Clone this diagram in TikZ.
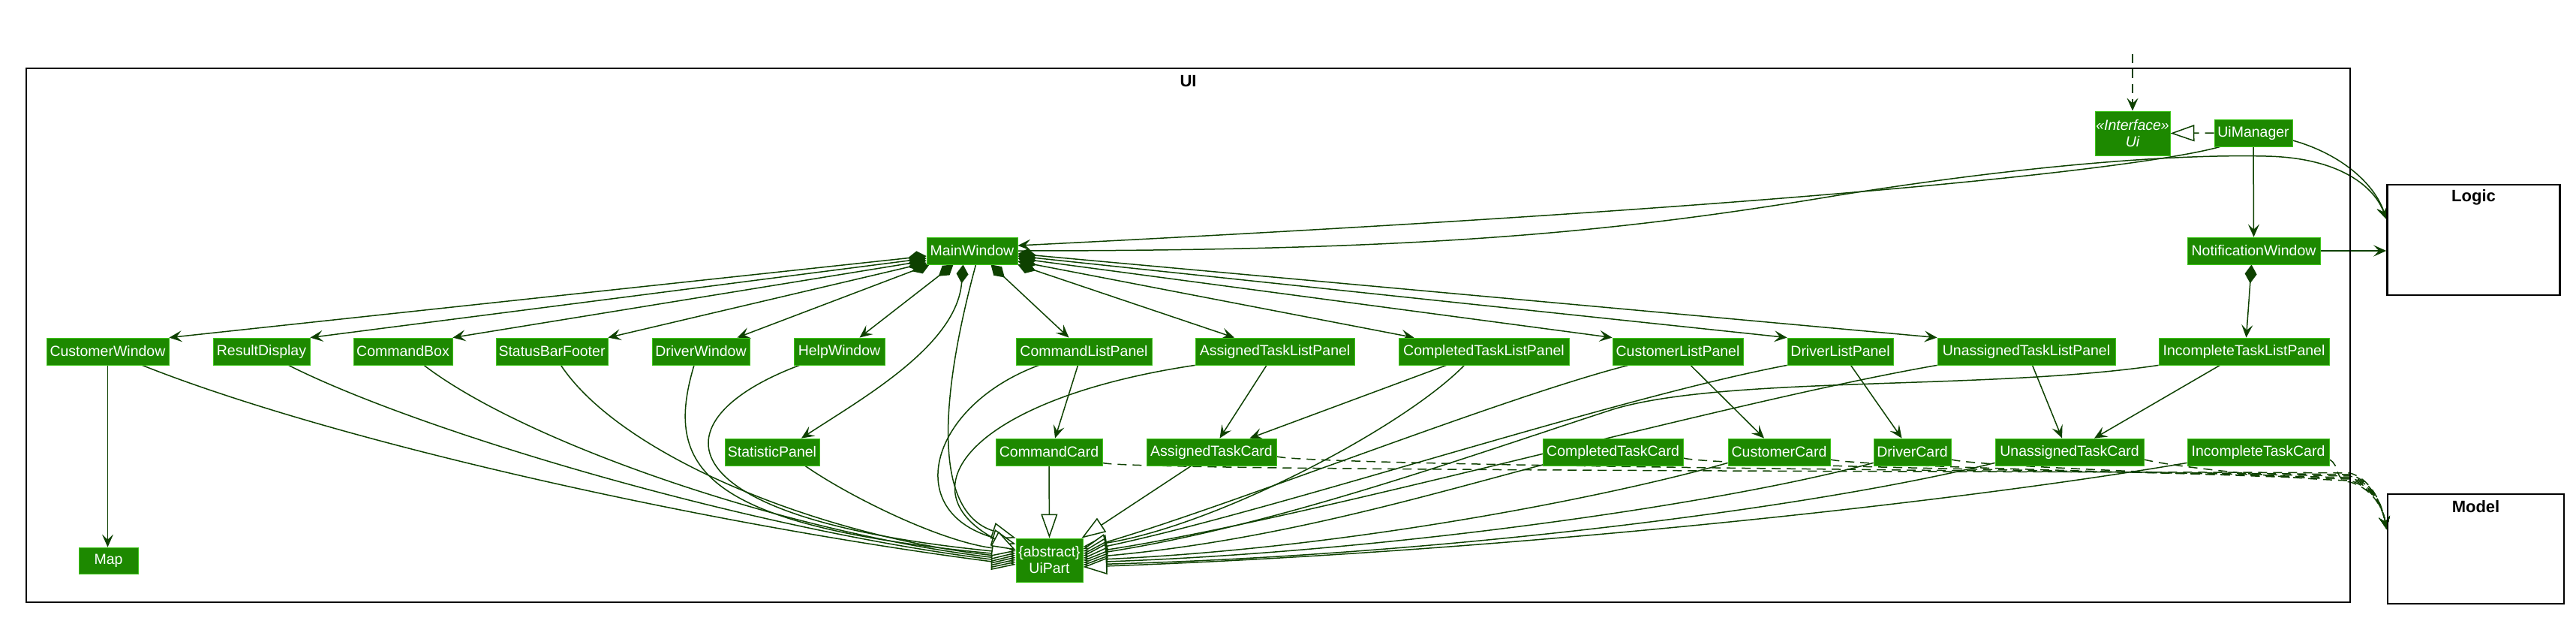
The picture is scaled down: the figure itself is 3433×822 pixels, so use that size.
\documentclass[tikz,border=0pt]{standalone}
\usepackage{fontspec}
\newfontfamily\lsans{Liberation Sans}
\usetikzlibrary{arrows.meta}
\definecolor{uifill}{HTML}{1D8900}
\definecolor{uiborder}{HTML}{3FC71B}
\definecolor{lc}{HTML}{0E4100}
\pgfdeclarelayer{edges}
\pgfsetlayers{edges,main}
\begin{document}
\begin{tikzpicture}[x=1pt,y=1pt,
  cls/.style={rectangle, fill=uifill, draw=uiborder, line width=0.8pt, text=white,
    font=\lsans\fontsize{19.5}{22}\selectfont, inner sep=0pt, minimum height=36pt, align=center},
  pkg/.style={rectangle, draw=black, line width=2.6pt, inner sep=0pt},
  pkglbl/.style={font=\lsans\bfseries\fontsize{22}{24}\selectfont, inner sep=0pt},
  lnk/.style={draw=lc, line width=1.5pt},
  assoc/.style={lnk, -{Stealth[length=17pt, width=15pt, inset=7pt]}},
  comp/.style={lnk, {Diamond[length=25pt, width=16pt]}-{Stealth[length=17pt, width=15pt, inset=7pt]}},
  ext/.style={lnk, -{Triangle[open, fill=white, length=32pt, width=22pt]}},
  dep/.style={assoc, dash pattern=on 12pt off 8pt},
  real/.style={ext, dash pattern=on 12pt off 8pt}
]
\useasboundingbox (0,0) rectangle (3433,-822);

% packages
\node[pkg, minimum width=3097pt, minimum height=711pt] (uipkg) at (1583.5,-446.5) {};
\node[pkglbl] (uilbl) at (1583.5,-108) {UI};
\node[pkg, minimum width=230pt, minimum height=147pt] (logic) at (3296.5,-319.5) {};
\node[pkglbl] (logiclbl) at (3296.5,-263) {Logic};
\node[pkg, minimum width=235pt, minimum height=146pt] (model) at (3299.5,-731) {};
\node[pkglbl] (modellbl) at (3299.5,-675) {Model};

% classes
\node[cls, minimum width=100pt, minimum height=59pt, font=\lsans\itshape\fontsize{19.5}{22}\selectfont] (ui) at (2842,-177.5) {«Interface»\\Ui};
\node[cls, minimum width=104pt] (uim) at (3003,-177) {UiManager};
\node[cls, minimum width=121pt] (mw) at (1295.5,-334) {MainWindow};
\node[cls, minimum width=177pt] (nw) at (3003.5,-334) {NotificationWindow};

\node[cls, minimum width=163pt] (cw) at (143.5,-468) {CustomerWindow};
\node[cls, minimum width=129pt] (rd) at (348.5,-468) {ResultDisplay};
\node[cls, minimum width=132pt] (cb) at (537,-468) {CommandBox};
\node[cls, minimum width=149pt] (sbf) at (735.5,-468) {StatusBarFooter};
\node[cls, minimum width=130pt] (dw) at (934,-468) {DriverWindow};
\node[cls, minimum width=121pt] (hw) at (1118.5,-468) {HelpWindow};
\node[cls, minimum width=181pt] (clp) at (1444.5,-468) {CommandListPanel};
\node[cls, minimum width=212pt] (atlp) at (1699,-468) {AssignedTaskListPanel};
\node[cls, minimum width=227pt] (ctlp) at (1977.5,-468) {CompletedTaskListPanel};
\node[cls, minimum width=174pt] (culp) at (2236,-468) {CustomerListPanel};
\node[cls, minimum width=141pt] (dlp) at (2452.5,-468) {DriverListPanel};
\node[cls, minimum width=237pt] (utlp) at (2700.5,-468) {UnassignedTaskListPanel};
\node[cls, minimum width=227pt] (itlp) at (2990.5,-468) {IncompleteTaskListPanel};

\node[cls, minimum width=126pt] (sp) at (1029,-602) {StatisticPanel};
\node[cls, minimum width=142pt] (cc) at (1398,-602) {CommandCard};
\node[cls, minimum width=173pt] (atc) at (1614.5,-602) {AssignedTaskCard};
\node[cls, minimum width=187pt] (ctc) at (2149.5,-602) {CompletedTaskCard};
\node[cls, minimum width=136pt] (cuc) at (2371,-602) {CustomerCard};
\node[cls, minimum width=103pt] (dc) at (2548.5,-602) {DriverCard};
\node[cls, minimum width=198pt] (utc) at (2758,-602) {UnassignedTaskCard};
\node[cls, minimum width=189pt] (itc) at (3009.5,-602) {IncompleteTaskCard};

\node[cls, minimum width=79pt, minimum height=35pt] (map) at (144.5,-746.5) {Map};
\node[cls, minimum width=89pt, minimum height=58pt] (uip) at (1398.5,-746) {\{abstract\}\\UiPart};

\coordinate (extsrc) at (2842,-72);

\begin{pgfonlayer}{edges}
% top-level
\draw[dep] (extsrc) -- (ui.north);
\draw[real] (uim.west) -- (ui.east);
\draw[assoc] ([xshift=8pt]uim.south west) .. controls (2880,-218) and (2500,-270) .. ([yshift=7pt]mw.east);
\draw[assoc] (mw.east) .. controls (1900,-334) and (2150,-310) .. (2450,-260)
   .. controls (2700,-220) and (2900,-205) .. (3020,-208)
   .. controls (3120,-210) and (3165,-250) .. ([yshift=27.5pt]logic.west);
\draw[assoc] ([yshift=-10pt]uim.east) .. controls (3120,-205) and (3165,-245) .. ([yshift=27.5pt]logic.west);
\draw[assoc] (uim.south) -- (nw.north);
\draw[assoc] (nw.east) -- (logic.west |- nw.east);
\draw[comp] ([xshift=-3pt]nw.south) -- ([xshift=3pt]itlp.north);
\draw[assoc] (cw.south) -- (cw.south |- map.north);

% MainWindow compositions
\draw[comp] ([yshift=-7pt]mw.west) -- (cw.north east);
\draw[comp] ([yshift=-10pt]mw.west) -- (rd.north east);
\draw[comp] ([yshift=-13pt]mw.west) -- (cb.north east);
\draw[comp] ([yshift=-16pt]mw.west) -- (sbf.north east);
\draw[comp] ([xshift=4pt]mw.south west) -- ([xshift=-17pt]dw.north east);
\draw[comp] ([xshift=-25pt]mw.south) -- ([xshift=27pt]hw.north);
\draw[comp] ([xshift=-12pt]mw.south) .. controls (1275,-460) and (1150,-530) .. ([xshift=39pt]sp.north);
\draw[comp] ([xshift=25pt]mw.south) -- ([xshift=-20pt]clp.north);
\draw[comp] (mw.south east) -- ([xshift=-54pt]atlp.north);
\draw[comp] ([yshift=-14pt]mw.east) -- ([xshift=-93pt]ctlp.north);
\draw[comp] ([yshift=-10pt]mw.east) -- (culp.north west);
\draw[comp] ([yshift=-7pt]mw.east) -- (dlp.north west);
\draw[comp] ([yshift=-4pt]mw.east) -- (utlp.north west);

% panel -> card associations
\draw[assoc] ([xshift=-8pt]clp.south) -- ([xshift=8pt]cc.north);
\draw[assoc] ([xshift=-11pt]atlp.south) -- ([xshift=11pt]atc.north);
\draw[assoc] ([xshift=-50pt]ctlp.south) -- ([xshift=51pt]atc.north);
\draw[assoc] ([xshift=17pt]culp.south) -- ([xshift=-20pt]cuc.north);
\draw[assoc] ([xshift=14pt]dlp.south) -- ([xshift=-14pt]dc.north);
\draw[assoc] ([xshift=8pt]utlp.south) -- ([xshift=-10pt]utc.north);
\draw[assoc] ([xshift=-32pt]itlp.south) -- ([xshift=33pt]utc.north);

% extends UiPart: left group
\draw[ext] ([xshift=46pt]cw.south) .. controls (450,-590) and (950,-700) .. ([yshift=-6pt]uip.west);
\draw[ext] ([xshift=36pt]rd.south) .. controls (560,-575) and (1000,-705) .. ([yshift=-3pt]uip.west);
\draw[ext] ([xshift=28pt]cb.south) .. controls (700,-590) and (1050,-710) .. (uip.west);
\draw[ext] ([xshift=12pt]sbf.south) .. controls (830,-610) and (1100,-715) .. ([yshift=3pt]uip.west);
\draw[ext] ([xshift=-9pt]dw.south) .. controls (885,-620) and (930,-700) .. ([yshift=6pt]uip.west);
\draw[ext] ([xshift=-53pt]hw.south) .. controls (870,-560) and (880,-690) .. ([yshift=9pt]uip.west);
\draw[ext] ([xshift=44pt]sp.south) .. controls (1130,-660) and (1250,-720) .. ([yshift=12pt]uip.west);
% top group
\draw[ext] ([xshift=5pt]mw.south) .. controls (1255,-520) and (1240,-680) .. (uip.north west);
\draw[ext] ([xshift=-60pt]clp.south) .. controls (1240,-540) and (1200,-680) .. ([yshift=-8pt]uip.north west);
\draw[ext] (atlp.south west) .. controls (1300,-530) and (1200,-650) .. ([yshift=-16pt]uip.north west);
\draw[ext] (cc.south) -- (uip.north);
\draw[ext] ([xshift=-27pt]atc.south) -- ([xshift=-2pt]uip.north east);
% right group
\draw[ext] ([xshift=-26pt]ctlp.south) .. controls (1870,-570) and (1620,-700) .. ([yshift=18pt]uip.east);
\draw[ext] ([xshift=-66pt]culp.south) .. controls (2000,-530) and (1650,-670) .. ([yshift=15pt]uip.east);
\draw[ext] (dlp.south west) .. controls (2150,-530) and (1700,-680) .. ([yshift=12pt]uip.east);
\draw[ext] (utlp.south west) .. controls (2300,-535) and (1750,-690) .. ([yshift=9pt]uip.east);
\draw[ext] (itlp.south west) .. controls (2650,-520) and (2300,-500) .. (2150,-545)
   .. controls (1950,-610) and (1700,-700) .. ([yshift=6pt]uip.east);
\draw[ext] ([xshift=10pt,yshift=4pt]ctc.south west) .. controls (1900,-660) and (1700,-720) .. ([yshift=3pt]uip.east);
\draw[ext] ([yshift=4pt]cuc.south west) .. controls (2150,-660) and (1800,-730) .. (uip.east);
\draw[ext] ([yshift=4pt]dc.south west) .. controls (2300,-670) and (1850,-735) .. ([yshift=-3pt]uip.east);
\draw[ext] ([yshift=4pt]utc.south west) .. controls (2400,-680) and (1900,-740) .. ([yshift=-6pt]uip.east);
\draw[ext] ([yshift=4pt]itc.south west) .. controls (2600,-670) and (2000,-735) .. ([yshift=-9pt]uip.east);

% cards -> Model
\draw[dep] ([yshift=4pt]cc.south east) .. controls +(40,-12) and (3050,-628) .. (3132,-630)
   .. controls (3165,-640) and (3176,-680) .. ([yshift=26pt]model.west);
\draw[dep] ([yshift=-6pt]atc.east) .. controls +(60,-14) and (3050,-630) .. (3132,-632)
   .. controls (3165,-642) and (3176,-680) .. ([yshift=26pt]model.west);
\draw[dep] ([yshift=-8pt]ctc.east) .. controls +(40,-12) and (3050,-632) .. (3132,-634)
   .. controls (3165,-644) and (3176,-680) .. ([yshift=26pt]model.west);
\draw[dep] ([yshift=-10pt]cuc.east) .. controls +(40,-10) and (3050,-634) .. (3132,-636)
   .. controls (3165,-646) and (3176,-680) .. ([yshift=26pt]model.west);
\draw[dep] ([yshift=-10pt]dc.east) .. controls +(40,-10) and (3050,-636) .. (3132,-638)
   .. controls (3165,-648) and (3176,-680) .. ([yshift=26pt]model.west);
\draw[dep] ([yshift=-10pt]utc.east) .. controls +(40,-10) and (3050,-638) .. (3132,-640)
   .. controls (3165,-650) and (3176,-680) .. ([yshift=26pt]model.west);
\draw[dep] ([yshift=-10pt]itc.east) .. controls +(15,-8) and (3110,-640) .. (3132,-642)
   .. controls (3165,-652) and (3176,-680) .. ([yshift=26pt]model.west);
\end{pgfonlayer}
\end{tikzpicture}
\end{document}
